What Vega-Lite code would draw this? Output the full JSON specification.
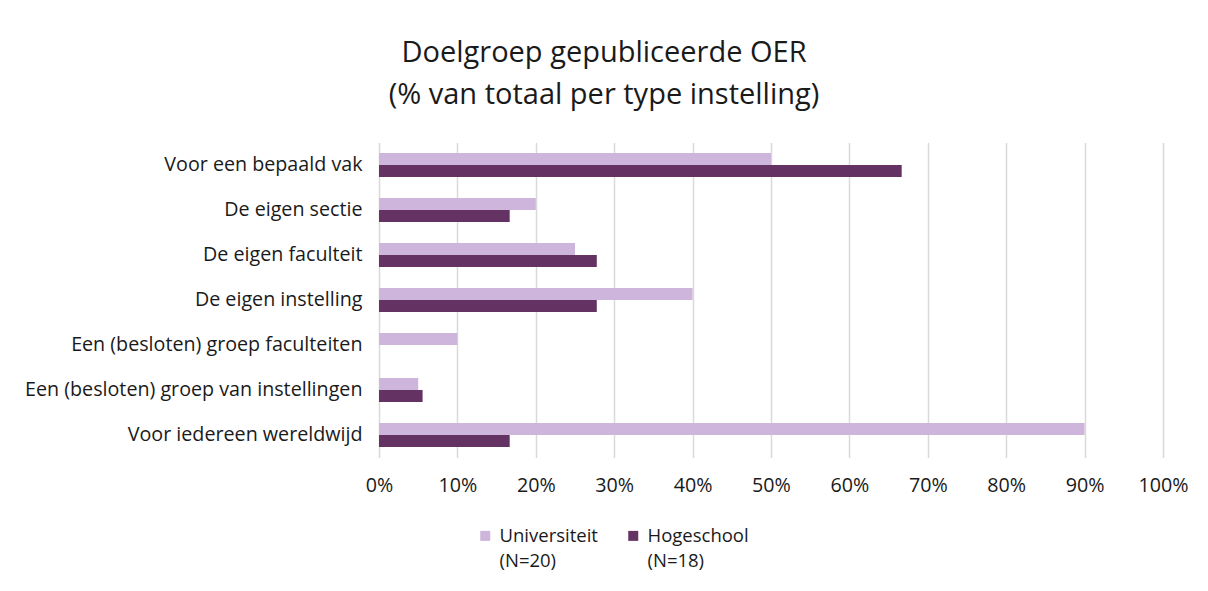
{
  "$schema": "https://vega.github.io/schema/vega-lite/v6.json",
  "autosize": "none",
  "width": 784,
  "height": 315,
  "padding": {"left": 379, "top": 142.5, "right": 45, "bottom": 133.5},
  "background": "white",
  "title": {
    "text": ["Doelgroep gepubliceerde OER", "(% van totaal per type instelling)"],
    "anchor": "middle",
    "frame": "group",
    "dx": -167,
    "fontSize": 29,
    "font": "Open Sans",
    "fontWeight": "normal",
    "color": "#1a1a1a",
    "lineHeight": 42,
    "offset": 33
  },
  "data": {
    "values": [
      {"doelgroep": "Voor een bepaald vak", "type": "Universiteit|(N=20)", "pct": 0.50},
      {"doelgroep": "Voor een bepaald vak", "type": "Hogeschool|(N=18)", "pct": 0.6667},
      {"doelgroep": "De eigen sectie", "type": "Universiteit|(N=20)", "pct": 0.20},
      {"doelgroep": "De eigen sectie", "type": "Hogeschool|(N=18)", "pct": 0.1667},
      {"doelgroep": "De eigen faculteit", "type": "Universiteit|(N=20)", "pct": 0.25},
      {"doelgroep": "De eigen faculteit", "type": "Hogeschool|(N=18)", "pct": 0.2778},
      {"doelgroep": "De eigen instelling", "type": "Universiteit|(N=20)", "pct": 0.40},
      {"doelgroep": "De eigen instelling", "type": "Hogeschool|(N=18)", "pct": 0.2778},
      {"doelgroep": "Een (besloten) groep faculteiten", "type": "Universiteit|(N=20)", "pct": 0.10},
      {"doelgroep": "Een (besloten) groep faculteiten", "type": "Hogeschool|(N=18)", "pct": 0.0},
      {"doelgroep": "Een (besloten) groep van instellingen", "type": "Universiteit|(N=20)", "pct": 0.05},
      {"doelgroep": "Een (besloten) groep van instellingen", "type": "Hogeschool|(N=18)", "pct": 0.0556},
      {"doelgroep": "Voor iedereen wereldwijd", "type": "Universiteit|(N=20)", "pct": 0.90},
      {"doelgroep": "Voor iedereen wereldwijd", "type": "Hogeschool|(N=18)", "pct": 0.1667}
    ]
  },
  "mark": {"type": "bar"},
  "encoding": {
    "y": {
      "field": "doelgroep",
      "type": "nominal",
      "sort": null,
      "scale": {"paddingInner": 0.4667, "paddingOuter": 0.2333},
      "axis": {
        "title": null,
        "domain": false,
        "ticks": false,
        "labelPadding": 17,
        "labelFont": "Open Sans",
        "labelFontSize": 19.7,
        "labelColor": "#1a1a1a",
        "labelLimit": 400
      }
    },
    "yOffset": {
      "field": "type",
      "type": "nominal",
      "sort": ["Universiteit|(N=20)", "Hogeschool|(N=18)"],
      "scale": {"paddingInner": 0, "paddingOuter": 0}
    },
    "x": {
      "field": "pct",
      "type": "quantitative",
      "scale": {"domain": [0, 1], "nice": false},
      "axis": {
        "title": null,
        "format": ".0%",
        "values": [0, 0.1, 0.2, 0.3, 0.4, 0.5, 0.6, 0.7, 0.8, 0.9, 1.0],
        "domain": false,
        "ticks": false,
        "grid": true,
        "gridColor": "#d9d9d9",
        "gridWidth": 1.5,
        "labelFlush": false,
        "labelPadding": 18,
        "labelFont": "Open Sans",
        "labelFontSize": 19.7,
        "labelColor": "#1a1a1a"
      }
    },
    "color": {
      "field": "type",
      "type": "nominal",
      "scale": {
        "domain": ["Universiteit|(N=20)", "Hogeschool|(N=18)"],
        "range": ["#ceb5db", "#653363"]
      },
      "legend": {
        "title": null,
        "orient": "none",
        "legendX": 97,
        "legendY": 390,
        "direction": "horizontal",
        "columns": 2,
        "columnPadding": 26,
        "symbolType": "M-1,-2.2H1V-0.2H-1Z",
        "symbolSize": 100,
        "symbolStrokeWidth": 0,
        "symbolOpacity": 1,
        "labelOffset": 5,
        "labelFont": "Open Sans",
        "labelFontSize": 18.5,
        "labelColor": "#1a1a1a",
        "labelBaseline": "alphabetic",
        "labelExpr": "split(datum.label, '|')",
        "labelLimit": 200
      }
    }
  },
  "config": {
    "view": {"stroke": null},
    "style": {"guide-label": {"lineHeight": 25}}
  }
}
